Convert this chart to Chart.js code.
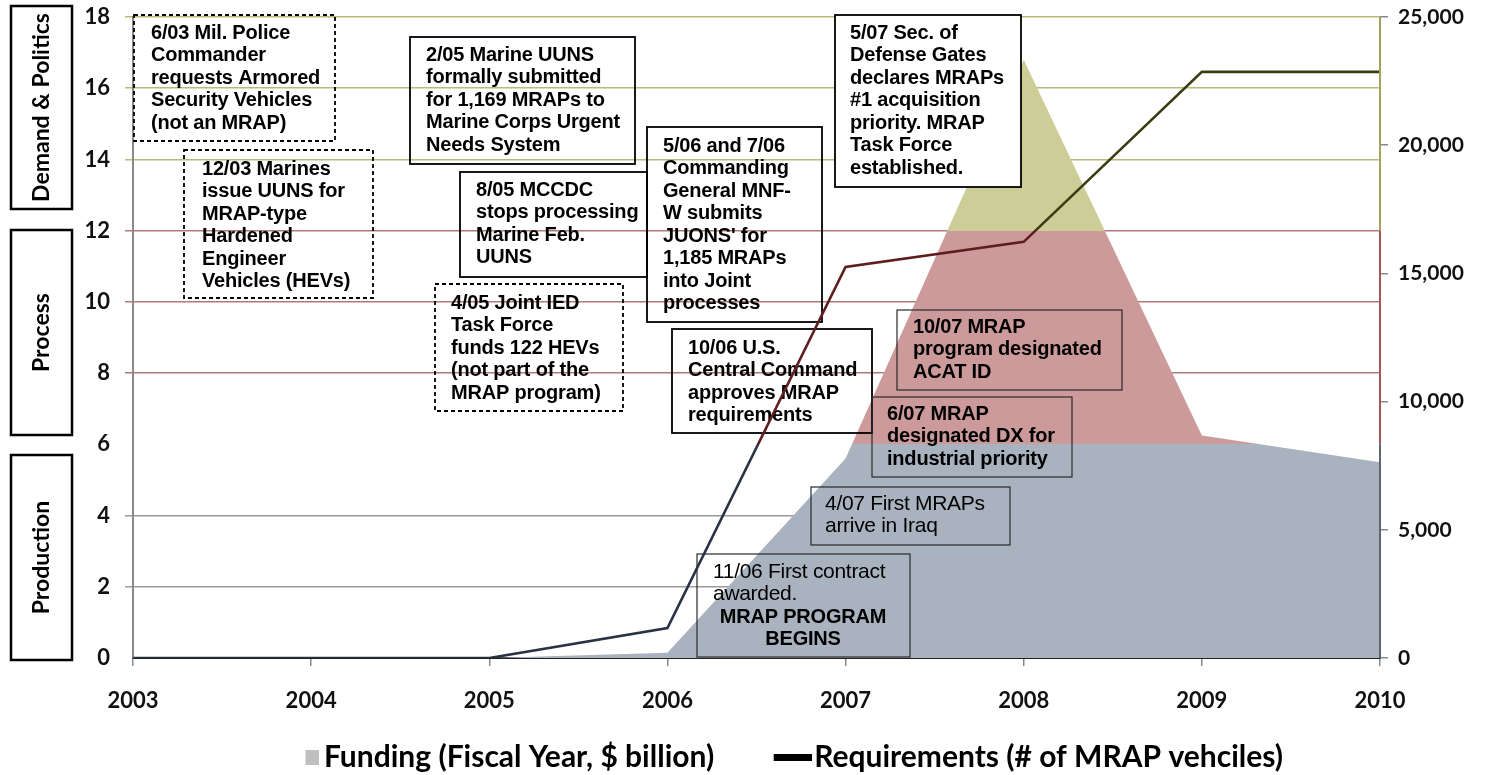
<!DOCTYPE html>
<html>
<head>
<meta charset="utf-8">
<script src="https://cdn.jsdelivr.net/npm/chart.js@4.4.1/dist/chart.umd.min.js"></script>
<style>
  html, body { margin: 0; padding: 0; background: #fff; }
  #wrap { width: 1489px; height: 775px; position: relative; }
</style>
</head>
<body>
<div id="wrap"><canvas id="mrapChart"></canvas></div>
<script>
// ================= DATA =================
const years = ["2003", "2004", "2005", "2006", "2007", "2008", "2009", "2010"];
const funding = [0, 0, 0, 0.15, 5.6, 16.8, 6.25, 5.5];            // $ billion
const requirements = [0, 0, 0, 1170, 15250, 16230, 22860, 22860]; // # vehicles
const leftTicks = [0, 2, 4, 6, 8, 10, 12, 14, 16, 18];
const rightTicks = [0, 5000, 10000, 15000, 20000, 25000];
const bandLimits = [6, 12]; // production / process / demand & politics

// ================= COLOURS =================
const areaCol = { low: "#a9b3bf", mid: "#cc9a9a", high: "#cdcd97" };
const lineCol = { low: "#2a3344", mid: "#5e1e1e", high: "#3c3c12" };
const gridCol = { low: "#9a9a9a", mid: "#b07a7a", high: "#b9b97a" };
const axisCol = { low: "#5d6573", mid: "#a35656", high: "#a3a35a" };

// ================= NOTES =================
const notes = [
  { box: [134, 15, 201, 126], dash: true, tx: 151, ty: 33, bold: true,
    lines: ["6/03 Mil. Police", "Commander", "requests Armored", "Security Vehicles", "(not an MRAP)"] },
  { box: [184, 150, 189, 148], dash: true, tx: 202, ty: 169, bold: true,
    lines: ["12/03 Marines", "issue UUNS for", "MRAP-type", "Hardened", "Engineer", "Vehicles (HEVs)"] },
  { box: [410, 37, 225, 127], tx: 426, ty: 55, bold: true,
    lines: ["2/05 Marine UUNS", "formally submitted", "for 1,169 MRAPs to", "Marine Corps Urgent", "Needs System"] },
  { box: [460, 172, 187, 105], tx: 476, ty: 190, bold: true,
    lines: ["8/05 MCCDC", "stops processing", "Marine Feb.", "UUNS"] },
  { box: [647, 127, 175, 195], tx: 663, ty: 146, bold: true,
    lines: ["5/06 and 7/06", "Commanding", "General MNF-", "W submits", "JUONS' for", "1,185 MRAPs", "into Joint", "processes"] },
  { box: [435, 284, 188, 127], dash: true, tx: 451, ty: 303, bold: true,
    lines: ["4/05 Joint IED", "Task Force", "funds 122 HEVs", "(not part of the", "MRAP program)"] },
  { box: [835, 15, 186, 172], fill: "#fff", tx: 850, ty: 33, bold: true,
    lines: ["5/07 Sec. of", "Defense Gates", "declares MRAPs", "#1 acquisition", "priority. MRAP", "Task Force", "established."] },
  { box: [672, 329, 200, 104], tx: 688, ty: 348, bold: true,
    lines: ["10/06 U.S.", "Central Command", "approves MRAP", "requirements"] },
  { box: [897, 310, 225, 80], thin: true, tx: 913, ty: 327, bold: true,
    lines: ["10/07 MRAP", "program designated", "ACAT ID"] },
  { box: [872, 397, 200, 80], thin: true, tx: 887, ty: 414, bold: true,
    lines: ["6/07 MRAP", "designated DX for", "industrial priority"] },
  { box: [811, 487, 199, 58], thin: true, tx: 825, ty: 504, bold: false,
    lines: ["4/07 First MRAPs", "arrive in Iraq"] },
  { box: [697, 554, 213, 103], thin: true, tx: 713, ty: 572, bold: false,
    lines: ["11/06 First contract", "awarded."],
    center: { x: 803, ty: 617, lines: ["MRAP PROGRAM", "BEGINS"] } },
];

const sideLabels = [
  { box: [11, 6, 61, 203], text: "Demand & Politics" },
  { box: [11, 230, 61, 205], text: "Process" },
  { box: [11, 455, 61, 205], text: "Production" },
];

// ================= HELPERS =================
function bandGradient(chart, cols) {
  const area = chart.chartArea;
  const y = chart.scales.y;
  if (!area || !y) return cols.low;
  const g = chart.ctx.createLinearGradient(0, area.top, 0, area.bottom);
  const h = area.bottom - area.top;
  const f12 = (y.getPixelForValue(bandLimits[1]) - area.top) / h;
  const f6 = (y.getPixelForValue(bandLimits[0]) - area.top) / h;
  g.addColorStop(0, cols.high);
  g.addColorStop(f12, cols.high);
  g.addColorStop(f12, cols.mid);
  g.addColorStop(f6, cols.mid);
  g.addColorStop(f6, cols.low);
  g.addColorStop(1, cols.low);
  return g;
}

// legend icon: a wide transparent canvas with the swatch pushed to the right
function legendIcon(w, h, color, cw) {
  const c = document.createElement("canvas");
  c.width = cw;
  c.height = h;
  const cx = c.getContext("2d");
  cx.fillStyle = color;
  cx.fillRect(cw - w, 0, w, h);
  return c;
}

const noteFont = "'Liberation Sans', Arial, sans-serif";
const axisFont = "Lato, 'Open Sans', sans-serif";
const PLOT_BOTTOM_GAP = 117; // canvas height minus plot bottom
const PAD_BOTTOM = 2;
const LEGEND_TEXT_Y = 757;

// ================= NOTES PLUGIN =================
const notesPlugin = {
  id: "notes",
  afterLayout(chart) {
    const lg = chart.legend;
    if (lg) {
      lg.left += 14;
      lg.right += 14;
      const dy = LEGEND_TEXT_Y - 10 - 15 - lg.top;
      lg.top += dy;
      lg.bottom += dy;
    }
  },
  afterDatasetDraw(chart, args) {
    if (args.index !== 1) return; // right after the funding area
    const ctx = chart.ctx;
    ctx.save();
    notes.forEach((n) => {
      const [x, y, w, h] = n.box;
      if (n.fill) {
        ctx.fillStyle = n.fill;
        ctx.fillRect(x, y, w, h);
      }
      ctx.setLineDash(n.dash ? [4, 3] : []);
      ctx.lineWidth = n.thin ? 1.2 : 1.8;
      ctx.strokeStyle = n.thin ? "#2a2a2a" : "#000";
      ctx.strokeRect(x, y, w, h);
      ctx.setLineDash([]);
      ctx.fillStyle = "#000";
      ctx.textBaseline = "middle";
      ctx.textAlign = "left";
      ctx.font = (n.bold ? "bold 20px " : "21px ") + noteFont;
      ctx.letterSpacing = n.bold ? "-0.2px" : "-0.3px";
      n.lines.forEach((t, i) => ctx.fillText(t, n.tx, n.ty + i * 22.5));
      if (n.center) {
        ctx.font = "bold 20px " + noteFont;
        ctx.letterSpacing = "-0.2px";
        ctx.textAlign = "center";
        n.center.lines.forEach((t, i) => ctx.fillText(t, n.center.x, n.center.ty + i * 22));
      }
    });
    ctx.restore();
  },
  afterDraw(chart) {
    const ctx = chart.ctx;
    const area = chart.chartArea;
    const y = chart.scales.y;
    ctx.save();
    // right axis line, coloured by band
    const p12 = y.getPixelForValue(bandLimits[1]);
    const p6 = y.getPixelForValue(bandLimits[0]);
    const segs = [[area.top, p12, axisCol.high], [p12, p6, axisCol.mid], [p6, area.bottom, axisCol.low]];
    ctx.lineWidth = 2;
    segs.forEach(([a, b, c]) => {
      ctx.strokeStyle = c;
      ctx.beginPath();
      ctx.moveTo(area.right, a);
      ctx.lineTo(area.right, b);
      ctx.stroke();
    });
    // side labels
    sideLabels.forEach((s) => {
      const [x, yy, w, h] = s.box;
      ctx.lineWidth = 2.5;
      ctx.strokeStyle = "#000";
      ctx.strokeRect(x, yy, w, h);
      ctx.save();
      ctx.translate(x + w / 2, yy + h / 2);
      ctx.rotate(-Math.PI / 2);
      ctx.fillStyle = "#000";
      ctx.font = "bold 23px " + axisFont;
      ctx.textAlign = "center";
      ctx.textBaseline = "middle";
      ctx.fillText(s.text, 0, 0);
      ctx.restore();
    });
    ctx.restore();
  },
};

// ================= CHART =================
const canvas = document.getElementById("mrapChart");
new Chart(canvas, {
  type: "line",
  data: {
    labels: years,
    datasets: [
      {
        label: "Requirements (# of MRAP vehciles)",
        data: requirements,
        yAxisID: "y2",
        order: 0,
        borderWidth: 2.6,
        borderColor: (c) => bandGradient(c.chart, lineCol),
        pointRadius: 0,
        tension: 0,
        fill: false,
      },
      {
        label: "Funding (Fiscal Year, $ billion)",
        data: funding,
        yAxisID: "y",
        order: 1,
        borderWidth: 0,
        borderColor: "rgba(0,0,0,0)",
        backgroundColor: (c) => bandGradient(c.chart, areaCol),
        pointRadius: 0,
        tension: 0,
        fill: "origin",
      },
    ],
  },
  options: {
    responsive: true,
    maintainAspectRatio: false,
    animation: false,
    layout: { padding: { top: 17, left: 0, right: 0, bottom: PAD_BOTTOM } },
    plugins: {
      title: { display: false },
      tooltip: { enabled: false },
      legend: {
        position: "bottom",
        labels: {
          usePointStyle: true,
          pointStyleWidth: 75,
          padding: 10,
          color: "#111",
          font: { family: axisFont, size: 30, weight: "bold" },
          generateLabels: () => [
            { text: "Funding (Fiscal Year, $ billion)", pointStyle: legendIcon(14, 15, "#bfbfbf", 96), datasetIndex: 1 },
            { text: "Requirements (# of MRAP vehciles)", pointStyle: legendIcon(38, 7, "#000", 100), datasetIndex: 0 },
          ],
        },
      },
    },
    scales: {
      x: {
        type: "category",
        offset: false,
        grid: { drawOnChartArea: false, color: "#888", tickLength: 8, lineWidth: 1.5 },
        border: { color: "#222", width: 2 },
        ticks: { color: "#111", padding: 22, maxRotation: 0, font: { family: axisFont, size: 22, weight: "bold" } },
        afterFit: (s) => {
          const lg = s.chart.legend ? s.chart.legend.height : 0;
          s.height = Math.max(40, PLOT_BOTTOM_GAP - lg - PAD_BOTTOM);
        },
      },
      y: {
        position: "left",
        min: 0,
        max: 18,
        afterBuildTicks: (s) => { s.ticks = leftTicks.map((v) => ({ value: v })); },
        grid: {
          tickLength: 8,
          lineWidth: 1.5,
          color: (c) => {
            const v = c.tick ? c.tick.value : 0;
            if (v === 0) return "rgba(0,0,0,0)";
            if (v === bandLimits[0]) return "rgba(0,0,0,0)";
            if (v > bandLimits[1]) return gridCol.high;
            if (v > bandLimits[0]) return gridCol.mid;
            return gridCol.low;
          },
        },
        border: { color: "#8a8a8a", width: 2 },
        ticks: { color: "#111", padding: 15, font: { family: axisFont, size: 22, weight: "bold" } },
        afterFit: (s) => { s.width = 133; s.paddingTop = 0; s.paddingBottom = 0; },
      },
      y2: {
        position: "right",
        min: 0,
        max: 25000,
        afterBuildTicks: (s) => { s.ticks = rightTicks.map((v) => ({ value: v })); },
        grid: { drawOnChartArea: false, color: "#888", tickLength: 8, lineWidth: 1.5 },
        border: { display: false },
        ticks: {
          color: "#111",
          padding: 10,
          font: { family: axisFont, size: 21, weight: "bold" },
          callback: (v) => Number(v).toLocaleString("en-US"),
        },
        afterFit: (s) => { s.width = 109; s.paddingTop = 0; s.paddingBottom = 0; },
      },
    },
  },
  plugins: [notesPlugin],
});
</script>
</body>
</html>
